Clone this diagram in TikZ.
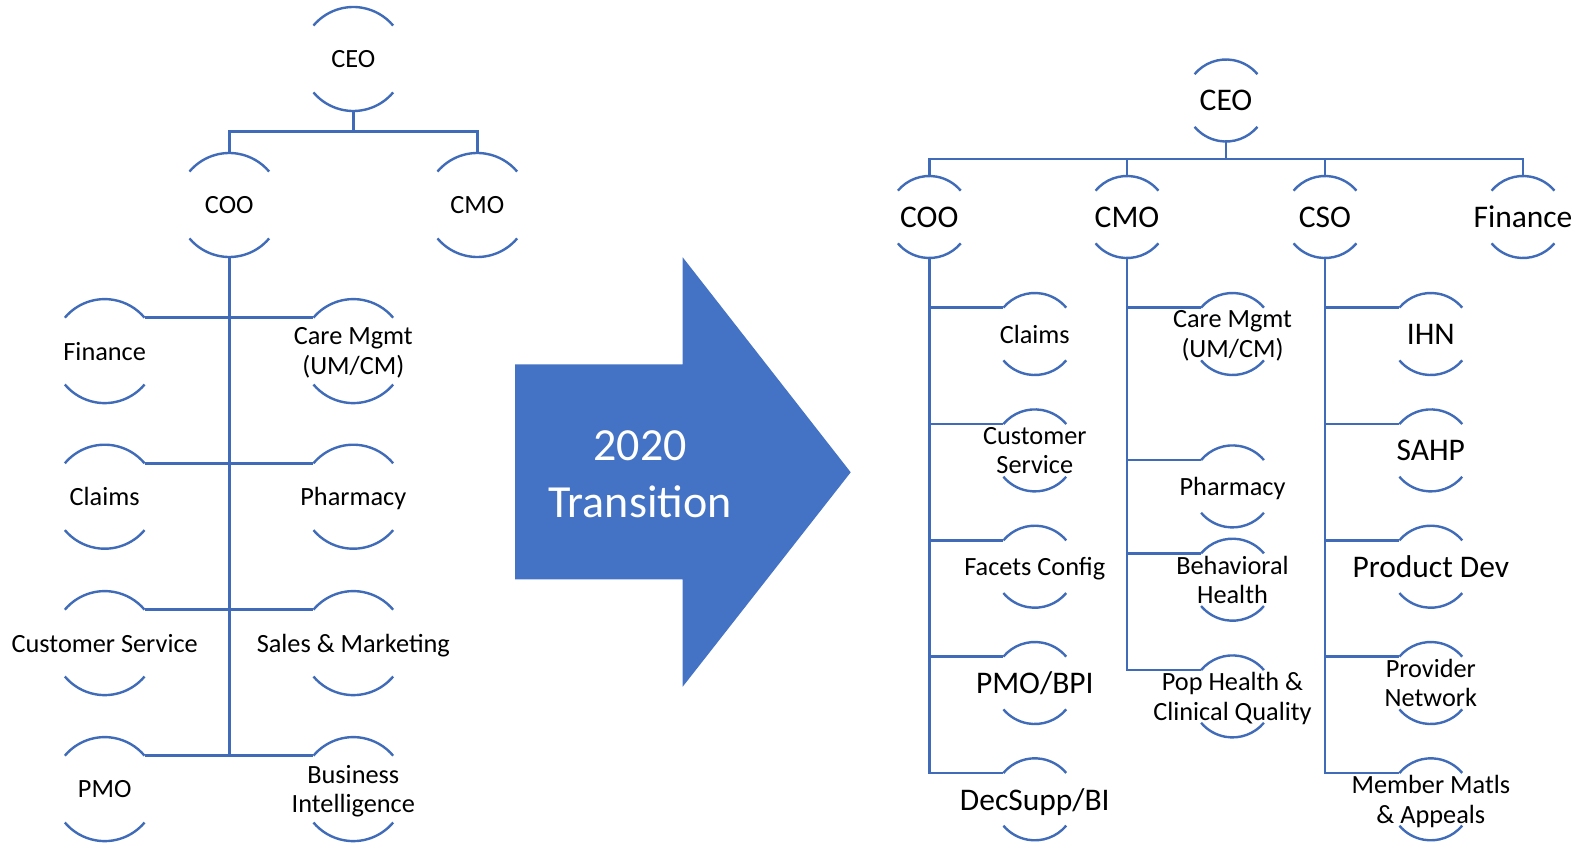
\documentclass[tikz,border=0pt]{standalone}
\usepackage{fontspec}
\setmainfont{Carlito}
\definecolor{orgline}{HTML}{3F6BB8}
\definecolor{arrowfill}{HTML}{4472C4}
% an org unit: an invisible circle with an arc above and below its name
\newcommand\orgnode[5]{%
  \node[circle, minimum size={2*#3 pt}, inner sep=0pt, outer sep=0pt] (#1) at (#2) {};
  \draw[arcline] (#1.center) ++(220:#3) arc[start angle=220, end angle=320, radius=#3];
  \draw[arcline] (#1.center) ++(40:#3) arc[start angle=40, end angle=140, radius=#3];
  \node[#4] (#1-txt) at (#1.center) {#5};
}
\begin{document}
\begin{tikzpicture}[x=1pt, y=-1pt,
  link/.style={draw=orgline, line width=2.6pt},
  arcline/.style={draw=orgline, line width=2.4pt},
  small/.style={font=\fontsize{26.3}{29.3}\selectfont, align=center, text depth=0pt, inner sep=0pt},
  big/.style={font=\fontsize{31.5}{35}\selectfont, align=center, text depth=0pt, inner sep=0pt}]
\useasboundingbox (0,0) rectangle (1576,843);

% ---------------- current organisation ----------------
\orgnode{ceoL}{353.3,59}{52}{small}{CEO}
\orgnode{cooL}{229.3,205}{52}{small}{COO}
\orgnode{cmoL}{477.3,205}{52}{small}{CMO}
\orgnode{finL}{104.7,351.1}{52}{small}{Finance}
\orgnode{careL}{353.3,351.1}{52}{small}{Care Mgmt\\(UM/CM)}
\orgnode{claimsL}{104.7,496.7}{52}{small}{Claims}
\orgnode{pharmL}{353.3,496.7}{52}{small}{Pharmacy}
\orgnode{custL}{104.7,643.1}{52}{small}{Customer Service}
\orgnode{salesL}{353.3,643.1}{52}{small}{Sales \& Marketing}
\orgnode{pmoL}{104.7,789.1}{52}{small}{PMO}
\orgnode{biL}{353.3,789.1}{52}{small}{Business\\Intelligence}

\coordinate (lbar) at (353.3,131.7);
\draw[link] (ceoL.south) -- (lbar);
\draw[link] (cooL.north) |- (lbar) -| (cmoL.north);
\draw[link] (cooL.south) -- (cooL.south |- pmoL.40);
\draw[link] (finL.40) -- (careL.140);
\draw[link] (claimsL.40) -- (pharmL.140);
\draw[link] (custL.40) -- (salesL.140);
\draw[link] (pmoL.40) -- (biL.140);

% ---------------- transition arrow ----------------
\path[fill=arrowfill] (515,364.3) -- (682.7,364.3) -- (682.7,257.3) -- (850.7,472.3)
  -- (682.7,686.7) -- (682.7,579.3) -- (515,579.3) -- cycle;
\node[text=white, font=\fontsize{46}{56.7}\selectfont, align=center, text depth=0pt, inner sep=0pt]
  (transition) at (640,473.8) {2020\\Transition};

% ---------------- 2020 organisation ----------------
\orgnode{rceo}{1226,100.5}{41}{big}{CEO}
\orgnode{rcoo}{929.3,217}{41}{big}{COO}
\orgnode{rcmo}{1127,217}{41}{big}{CMO}
\orgnode{rcso}{1325,217}{41}{big}{CSO}
\orgnode{rfin}{1523,217}{41}{big}{Finance}

\orgnode{rclaims}{1034.8,334}{41}{small}{Claims}
\orgnode{rcust}{1034.8,450.4}{41}{small}{Customer\\Service}
\orgnode{rfacets}{1034.8,566.7}{41}{small}{Facets Config}
\orgnode{rpmo}{1034.8,683}{41}{big}{PMO/BPI}
\orgnode{rdec}{1034.8,799.3}{41}{big}{DecSupp/BI}

\orgnode{rcare}{1232.5,334}{41}{small}{Care Mgmt\\(UM/CM)}
\orgnode{rpharm}{1232.5,486.4}{41}{small}{Pharmacy}
\orgnode{rbh}{1232.5,579.7}{41}{small}{Behavioral\\Health}
\orgnode{rpop}{1232.5,696.4}{41}{small}{Pop Health \&\\Clinical Quality}

\orgnode{rihn}{1430.8,334}{41}{big}{IHN}
\orgnode{rsahp}{1430.8,450.4}{41}{big}{SAHP}
\orgnode{rprod}{1430.8,566.7}{41}{big}{Product Dev}
\orgnode{rprov}{1430.8,683}{41}{small}{Provider\\Network}
\orgnode{rmem}{1430.8,799.3}{41}{small}{Member Matls\\\& Appeals}

\coordinate (rbar) at (1226,158.8);
\draw[link] (rceo.south) -- (rbar);
\draw[link] (rcoo.north) |- (rbar) -| (rfin.north);
\draw[link] (rcmo.north) -- (rcmo.north |- rbar);
\draw[link] (rcso.north) -- (rcso.north |- rbar);

\draw[link] (rcoo.south) |- (rdec.140);
\foreach \k in {rclaims,rcust,rfacets,rpmo}
  \draw[link] (\k.140) -- (\k.140 -| rcoo.south);

\draw[link] (rcmo.south) |- (rpop.140);
\foreach \k in {rcare,rpharm,rbh}
  \draw[link] (\k.140) -- (\k.140 -| rcmo.south);

\draw[link] (rcso.south) |- (rmem.140);
\foreach \k in {rihn,rsahp,rprod,rprov}
  \draw[link] (\k.140) -- (\k.140 -| rcso.south);
\end{tikzpicture}
\end{document}
